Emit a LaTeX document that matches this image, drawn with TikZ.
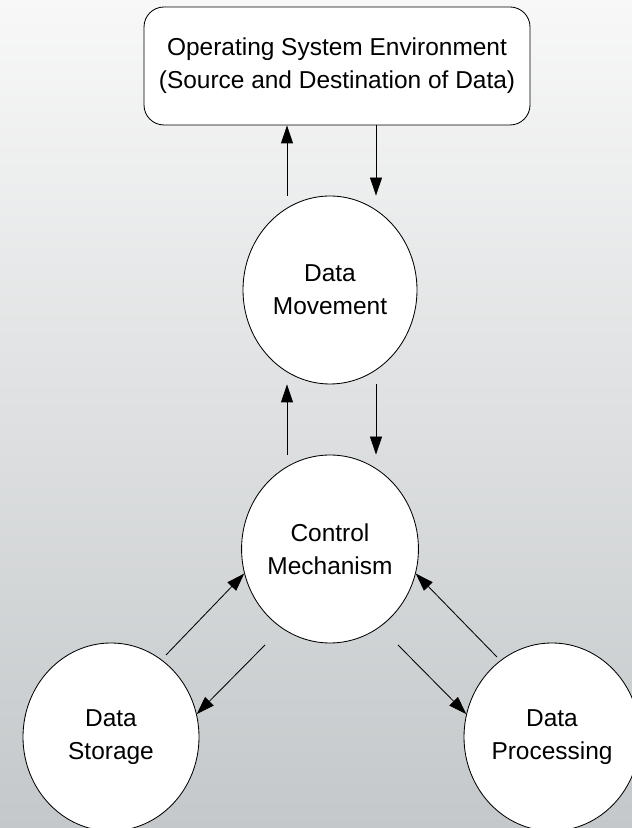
\documentclass[tikz,border=0pt]{standalone}
\usepackage{fontspec}
\setmainfont{Liberation Sans}
\usetikzlibrary{shapes.geometric,arrows.meta}

\definecolor{bgtop}{HTML}{F8F8F8}
\definecolor{bgmid}{HTML}{ECECEC}
\definecolor{bgbot}{HTML}{C4C8CA}

\begin{document}
\begin{tikzpicture}[
    font=\fontsize{17.4}{23.5}\selectfont,
    envbox/.style={draw, fill=white, line width=0.6pt, rounded corners=0.5cm,
        minimum width=9.65cm, minimum height=2.95cm, align=center},
    bubble/.style={draw, fill=white, ellipse, line width=0.6pt, inner sep=0pt,
        minimum width=4.35cm, minimum height=4.7cm, align=center},
    flow/.style={-{Triangle[length=0.45cm, width=0.3cm]}, line width=0.6pt},
]

% Background
\useasboundingbox (0, 0) rectangle (15.8, 20.7);
\shade[top color=bgtop, middle color=bgmid, bottom color=bgbot] (0, 0) rectangle (15.8, 20.7);

% Nodes
\node[envbox] (env) at (8.425, 19.05) {Operating System Environment\\(Source and Destination of Data)};
\node[bubble] (move) at (8.25, 13.45) {Data\\Movement};
\node[bubble] (ctrl) at (8.25, 6.975) {Control\\Mechanism};
\node[bubble, minimum width=4.4cm] (store) at (2.775, 2.275) {Data\\Storage};
\node[bubble, minimum width=4.4cm] (proc) at (13.8, 2.275) {Data\\Processing};

% Free ends of the diagonal arrows
\coordinate (storeout) at (4.15, 4.325);
\coordinate (ctrlleft) at (6.625, 4.575);
\coordinate (ctrlright) at (9.95, 4.575);
\coordinate (procout) at (12.425, 4.275);

% Environment <-> data movement
\draw[flow] ([xshift=-1.075cm]move.north) -- ([xshift=-1.075cm]move.north |- env.south);
\draw[flow] ([xshift=1.15cm]move.north |- env.south) -- ([xshift=1.15cm]move.north);

% Data movement <-> control
\draw[flow] ([xshift=-1.075cm]ctrl.north) -- ([xshift=-1.075cm]ctrl.north |- move.south);
\draw[flow] ([xshift=1.15cm]ctrl.north |- move.south) -- ([xshift=1.15cm]ctrl.north);

% Control <-> storage and processing
\draw[flow] (storeout) -- (ctrl.196);
\draw[flow] (ctrlleft) -- (store.15);
\draw[flow] (ctrlright) -- (proc.165);
\draw[flow] (procout) -- (ctrl.344);

\end{tikzpicture}
\end{document}
